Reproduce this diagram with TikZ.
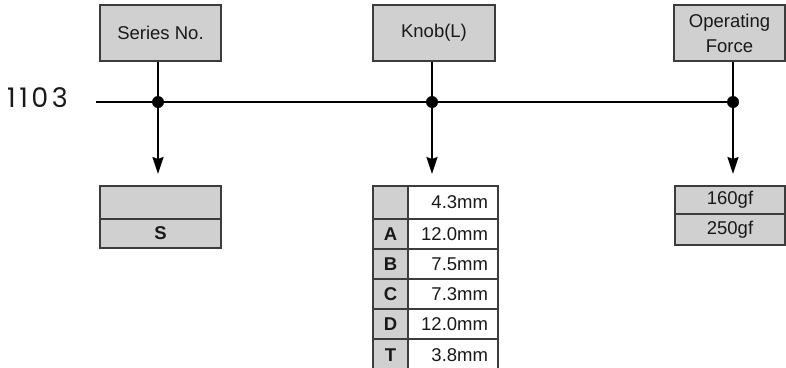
\documentclass[tikz,border=0pt]{standalone}
\usepackage{fontspec}
\setmainfont{Liberation Sans}
\newfontfamily\numfont{Poppins}
\usetikzlibrary{arrows.meta}
\definecolor{boxgray}{RGB}{208,208,208}
\definecolor{edgegray}{RGB}{60,60,60}
\definecolor{txt}{RGB}{25,25,25}
\begin{document}
\begin{tikzpicture}[x=1pt,y=-1pt,
  hdr/.style={draw=edgegray, line width=1.3pt, fill=boxgray, minimum height=56pt,
    inner sep=0pt, align=center, text=txt, font=\fontsize{18.5}{25}\selectfont},
  cell/.style={draw=edgegray, line width=1.2pt, inner sep=0pt, text=txt,
    font=\fontsize{18.5}{22}\selectfont},
  lcell/.style={cell, fill=boxgray, minimum width=35pt, font=\fontsize{18.5}{22}\selectfont\bfseries},
  vcell/.style={cell, fill=white, minimum width=90pt, inner xsep=10pt, text width=70pt, align=right},
  dotnode/.style={circle, fill=black, inner sep=0pt, minimum size=12pt},
  conn/.style={line width=1.7pt, black},
  arr/.style={conn, -{Stealth[length=17pt,width=11pt,inset=2pt]}}
]
\useasboundingbox (0,0) rectangle (786,367);

% header boxes
\node[hdr, minimum width=121pt] (ser) at (160.5,33) {Series No.};
\node[hdr, minimum width=122pt] (knob) at (434,33) {Knob(L)};
\node[hdr, minimum width=111pt] (opf) at (729.5,33) {Operating\\Force};

% series number
\node[anchor=base west, inner sep=0pt, text=txt, font=\numfont\fontsize{27}{27}\selectfont] (num) at (7,107) {1\kern3.5pt1\kern3.5pt0\kern3.5pt3};

% main line and dots
\coordinate (start) at (96,102);
\coordinate (p1) at (158,102);
\coordinate (p2) at (432,102);
\coordinate (p3) at (733,102);
\draw[conn] (start) -- (p3);
\draw[conn] (ser.south -| p1) -- (p1);
\draw[conn] (knob.south -| p2) -- (p2);
\draw[conn] (opf.south -| p3) -- (p3);
\coordinate (t1) at (158,174);
\coordinate (t2) at (432,174);
\coordinate (t3) at (733,174);
\draw[arr] (p1) -- (t1);
\draw[arr] (p2) -- (t2);
\draw[arr] (p3) -- (t3);
\node[dotnode] (d1) at (p1) {};
\node[dotnode] (d2) at (p2) {};
\node[dotnode] (d3) at (p3) {};

% series options
\node[cell, fill=boxgray, minimum width=121pt, minimum height=33pt] (s0) at (160.5,202.5) {};
\node[cell, fill=boxgray, minimum width=121pt, minimum height=29pt, font=\fontsize{18.5}{22}\selectfont\bfseries] (s1) at (160.5,233.5) {S};

% knob table
\node[lcell, minimum height=33pt] (k0l) at (390.5,202.5) {};
\node[vcell, minimum height=33pt] (k0v) at (453,202.5) {4.3mm};
\node[lcell, minimum height=30pt] (k1l) at (390.5,234) {A};
\node[vcell, minimum height=30pt] (k1v) at (453,234) {12.0mm};
\node[lcell, minimum height=30pt] (k2l) at (390.5,264) {B};
\node[vcell, minimum height=30pt] (k2v) at (453,264) {7.5mm};
\node[lcell, minimum height=30pt] (k3l) at (390.5,294) {C};
\node[vcell, minimum height=30pt] (k3v) at (453,294) {7.3mm};
\node[lcell, minimum height=30pt] (k4l) at (390.5,324) {D};
\node[vcell, minimum height=30pt] (k4v) at (453,324) {12.0mm};
\node[lcell, minimum height=32pt] (k5l) at (390.5,355) {T};
\node[vcell, minimum height=32pt] (k5v) at (453,355) {3.8mm};

% operating force options
\node[cell, fill=boxgray, minimum width=110pt, minimum height=28pt] (o0) at (730,200) {160gf};
\node[cell, fill=boxgray, minimum width=110pt, minimum height=31pt] (o1) at (730,229.5) {250gf};
\end{tikzpicture}
\end{document}
